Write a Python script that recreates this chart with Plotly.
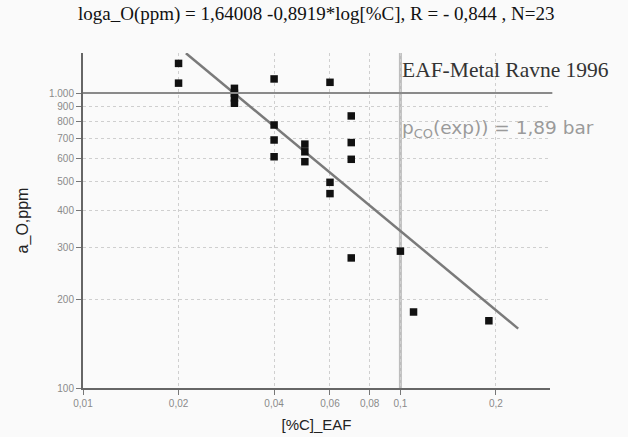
import plotly.graph_objects as go

# Data
carbon = [0.02, 0.02, 0.03, 0.03, 0.03, 0.03, 0.04, 0.04, 0.04, 0.04,
          0.05, 0.05, 0.05, 0.06, 0.06, 0.06, 0.07, 0.07, 0.07, 0.07,
          0.10, 0.11, 0.19]
a_o = [1260, 1080, 1037, 998, 962, 923, 1116, 779, 693, 608,
       671, 632, 585, 1087, 498, 456, 836, 679, 596, 276,
       291, 181, 169]

fit_x = [0.0211, 0.235]
fit_y = [1364, 159]

x_tickvals = [0.01, 0.02, 0.04, 0.06, 0.08, 0.1, 0.2]
x_ticktext = ["0,01", "0,02", "0,04", "0,06", "0,08", "0,1", "0,2"]
y_tickvals = [100, 200, 300, 400, 500, 600, 700, 800, 900, 1000]
y_ticktext = ["100", "200", "300", "400", "500", "600", "700", "800", "900", "1.000"]

title_text = "loga_O(ppm) = 1,64008 -0,8919*log[%C], R = - 0,844 , N=23"
label_text = "EAF-Metal Ravne 1996"
pco_text = "p<sub>CO</sub>(exp)) = 1,89 bar"

fig = go.Figure()

# vertical reference at 0.1
fig.add_shape(type="line", xref="x", yref="paper", x0=0.1, x1=0.1, y0=0, y1=1,
              line=dict(color="#bdbdbd", width=3), layer="below")
# horizontal reference at 1000
fig.add_shape(type="line", xref="paper", yref="y", x0=0, x1=1.005, y0=1000, y1=1000,
              line=dict(color="#8a8a8a", width=2), layer="above")

fig.add_trace(go.Scatter(x=fit_x, y=fit_y, mode="lines",
                         line=dict(color="#7a7a7a", width=2.5), showlegend=False))
fig.add_trace(go.Scatter(x=carbon, y=a_o, mode="markers",
                         marker=dict(symbol="square", size=7.5, color="#111111"),
                         showlegend=False))

fig.add_annotation(text=title_text, xref="paper", yref="paper", x=0.5, y=1,
                   yshift=39, xanchor="center", yanchor="middle", showarrow=False,
                   font=dict(family="Liberation Serif", size=19, color="#111111"))
fig.add_annotation(text=label_text, xref="x", yref="paper", x=-1, xshift=0,
                   y=1, yshift=-17, xanchor="left", yanchor="middle", showarrow=False,
                   font=dict(family="Liberation Serif", size=21.5, color="#333333"))
fig.add_annotation(text=pco_text, xref="x", yref="paper", x=-1, y=1, yshift=-76,
                   xanchor="left", yanchor="middle", showarrow=False,
                   font=dict(family="DejaVu Sans", size=18.5, color="#9a9a9a"))

fig.update_layout(
    width=628, height=437,
    margin=dict(l=83, r=78, t=53, b=49, autoexpand=False),
    paper_bgcolor="#fafafa", plot_bgcolor="#fafafa",
    xaxis=dict(type="log", range=[-2, -0.5287], automargin=False,
               tickvals=x_tickvals, ticktext=x_ticktext,
               ticks="outside", ticklen=5, tickcolor="#777",
               showline=True, linecolor="#666", linewidth=2,
               showgrid=True, gridcolor="#cfcfcf", griddash="dot", gridwidth=1,
               zeroline=False,
               tickfont=dict(family="Liberation Sans", size=10, color="#8a8a8a"),
               title=dict(text="[%C]_EAF", standoff=11,
                          font=dict(family="Liberation Sans", size=15, color="#222222"))),
    yaxis=dict(type="log", range=[2, 3.1356], automargin=False,
               tickvals=y_tickvals, ticktext=y_ticktext,
               ticks="outside", ticklen=5, tickcolor="#777",
               showline=True, linecolor="#666", linewidth=2,
               showgrid=True, gridcolor="#cfcfcf", griddash="dot", gridwidth=1,
               zeroline=False,
               tickfont=dict(family="Liberation Sans", size=10, color="#8a8a8a"),
               title=dict(text="a_O,ppm", standoff=16,
                          font=dict(family="Liberation Sans", size=16, color="#222222"))),
)

fig.write_html("out.html")
